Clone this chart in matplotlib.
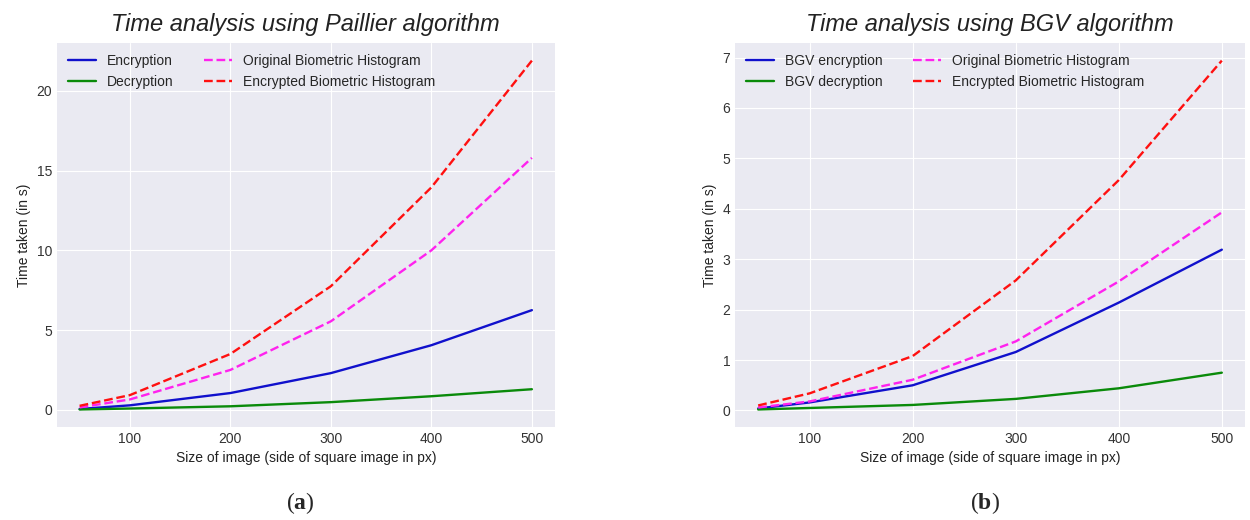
import matplotlib

matplotlib.use("Agg")
import matplotlib.pyplot as plt

# --- data --------------------------------------------------------------------
sizes = [50, 100, 200, 300, 400, 500]

paillier_enc = [0.05, 0.28, 1.05, 2.3, 4.05, 6.25]
paillier_dec = [0.02, 0.08, 0.22, 0.48, 0.85, 1.29]
paillier_orig = [0.15, 0.65, 2.5, 5.55, 10.0, 15.8]
paillier_encr = [0.25, 0.92, 3.5, 7.75, 13.95, 21.9]

bgv_enc = [0.04, 0.16, 0.5, 1.16, 2.14, 3.19]
bgv_dec = [0.02, 0.05, 0.11, 0.23, 0.44, 0.75]
bgv_orig = [0.06, 0.18, 0.61, 1.37, 2.56, 3.93]
bgv_encr = [0.1, 0.34, 1.08, 2.58, 4.57, 6.94]

paillier_labels = ["Encryption", "Decryption",
                   "Original Biometric Histogram", "Encrypted Biometric Histogram"]
bgv_labels = ["BGV encryption", "BGV decryption",
              "Original Biometric Histogram", "Encrypted Biometric Histogram"]
titles = ["Time analysis using Paillier algorithm", "Time analysis using BGV algorithm"]
panel_tags = ["a", "b"]

plt.style.use("seaborn-v0_8-darkgrid")
plt.rcParams["font.family"] = ["Liberation Sans", "DejaVu Sans"]
plt.rcParams["mathtext.fontset"] = "custom"
plt.rcParams["mathtext.rm"] = "Liberation Serif"
plt.rcParams["mathtext.bf"] = "Liberation Serif:bold"

fig = plt.figure(figsize=(12.5, 5.2), dpi=100)
ax_a = fig.add_axes([0.0456, 0.179, 0.398, 0.738])
ax_b = fig.add_axes([0.588, 0.179, 0.408, 0.738])


def draw_panel(ax, series, labels, title, tag):
    styles = [("#1010cc", "-"), ("#0a8a0a", "-"), ("#ff22ee", "--"), ("#ff1010", "--")]
    for ys, lab, (col, ls) in zip(series, labels, styles):
        ax.plot(sizes, ys, color=col, linestyle=ls, lw=1.7, label=lab)
    ax.set_xticks([100, 200, 300, 400, 500])
    ax.tick_params(labelsize=10, colors="#333333")
    ax.set_xlabel("Size of image (side of square image in px)", fontsize=10, color="#222222")
    ax.set_ylabel("Time taken (in s)", fontsize=10, color="#222222")
    ax.set_title(title, fontsize=17, style="italic", color="#222222", pad=9)
    ax.legend(loc="upper left", ncol=2, frameon=False, fontsize=10,
              borderaxespad=0.4, columnspacing=2.2)
    pos = ax.get_position()
    fig.text((pos.x0 + pos.x1) / 2 - 0.004, 0.032, r"($\mathbf{%s}$)" % tag,
             ha="center", va="center", fontsize=17, family="Liberation Serif")


draw_panel(ax_a, [paillier_enc, paillier_dec, paillier_orig, paillier_encr],
           paillier_labels, titles[0], panel_tags[0])
draw_panel(ax_b, [bgv_enc, bgv_dec, bgv_orig, bgv_encr],
           bgv_labels, titles[1], panel_tags[1])

fig.savefig("out.png", dpi=100, facecolor="white")
